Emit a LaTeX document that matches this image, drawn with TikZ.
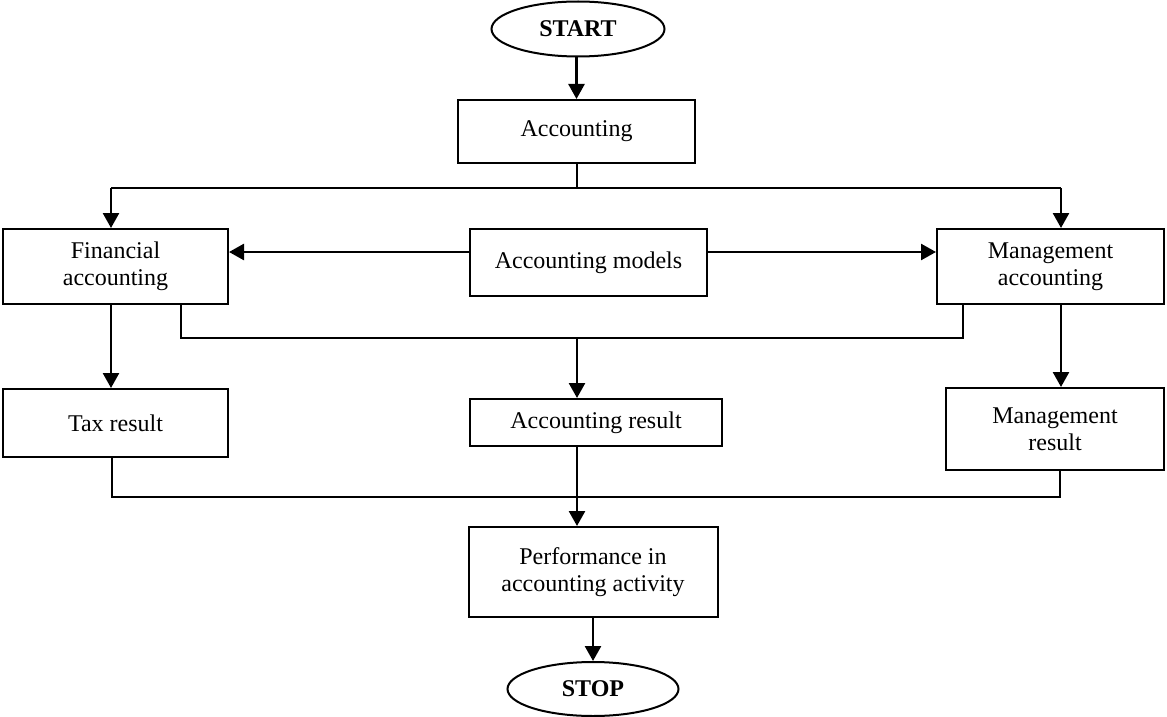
\documentclass[tikz,border=0pt]{standalone}
\usepackage{fontspec}
\setmainfont{Liberation Serif}
\usetikzlibrary{shapes.geometric, arrows.meta, positioning, calc}

\begin{document}
\begin{tikzpicture}[x=0.5pt,y=-0.5pt,
  box/.style={draw, line width=1pt, align=center, inner sep=0pt, font=\fontsize{12}{13.5}\selectfont},
  term/.style={draw, ellipse, line width=1pt, inner sep=0pt, font=\fontsize{12}{13.5}\selectfont\bfseries},
  arr/.style={-{Triangle[length=7.5pt,width=8pt]}, line width=1.3pt},
  bus/.style={line width=1pt}]
\useasboundingbox (0,0) rectangle (1167,717);

\node[term, minimum width=86.5pt, minimum height=27.5pt] (start) at (578,29) {START};
\node[box, minimum width=118.5pt, minimum height=31.5pt] (acc) at (576.5,131.5) {Accounting};
\node[box, minimum width=112.5pt, minimum height=37.5pt] (fin) at (115.5,266.5) {Financial\\accounting};
\node[box, minimum width=118.5pt, minimum height=33.5pt] (models) at (588.5,262.5) {Accounting models};
\node[box, minimum width=113.5pt, minimum height=37.5pt] (mgmt) at (1050.5,266.5) {Management\\accounting};
\node[box, minimum width=112.5pt, minimum height=34pt] (tax) at (115.5,423) {Tax result};
\node[box, minimum width=126pt, minimum height=23.5pt] (accres) at (596,422.5) {Accounting result};
\node[box, minimum width=109pt, minimum height=41pt] (mres) at (1055,429) {Management\\result};
\node[box, minimum width=124.5pt, minimum height=45pt] (perf) at (593,572) {Performance in\\accounting activity};
\node[term, minimum width=85.5pt, minimum height=27pt] (stop) at (593,689) {STOP};

\coordinate (b1) at (111,188);
\coordinate (b2) at (1061,188);
\coordinate (row) at (0,252);
\coordinate (m1) at (181,338);
\coordinate (m2) at (963,338);
\coordinate (m3) at (577,338);
\coordinate (l1) at (112,497);
\coordinate (l2) at (1060,497);
\coordinate (l3) at (577,497);

\draw[arr] (start.south -| acc) -- (acc.north);
\draw[bus] (acc.south) -- (acc.south |- b1);
\draw[bus] (b1) -- (b2);
\draw[arr] (b1) -- (b1 |- fin.north);
\draw[arr] (b2) -- (b2 |- mgmt.north);
\draw[arr] (models.west |- row) -- (fin.east |- row);
\draw[arr] (models.east |- row) -- (mgmt.west |- row);
\draw[arr] (b1 |- fin.south) -- (b1 |- tax.north);
\draw[arr] (b2 |- mgmt.south) -- (b2 |- mres.north);
\draw[bus] (m1 |- fin.south) -- (m1) -- (m2) -- (m2 |- mgmt.south);
\draw[arr] (m3) -- (m3 |- accres.north);
\draw[bus] (l1 |- tax.south) -- (l1) -- (l2) -- (l2 |- mres.south);
\draw[arr] (l3 |- accres.south) -- (l3 |- perf.north);
\draw[arr] (perf.south) -- (perf.south |- stop.north);
\end{tikzpicture}
\end{document}
